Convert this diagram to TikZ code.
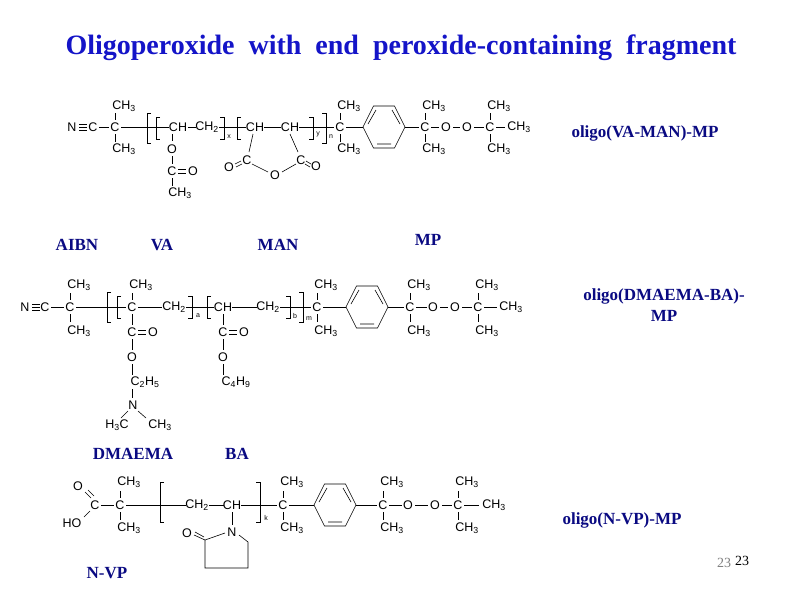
\documentclass[tikz,border=0pt]{standalone}
\usepackage{fontspec}
\setmainfont{Liberation Serif}
\newfontfamily\chem{Liberation Sans}
\definecolor{ttl}{RGB}{20,20,200}
\definecolor{lab}{RGB}{10,10,130}
\newcommand{\A}[3]{\node[atm] at (#1,#2) {#3};}
\newcommand{\Me}{CH\textsubscript{3}}
\newcommand{\Br}[4]{\draw[bond] (#1+4,#2)--(#1,#2)--(#1,#3)--(#1+4,#3);}
\newcommand{\Kt}[4]{\draw[bond] (#1-4,#2)--(#1,#2)--(#1,#3)--(#1-4,#3);}
\newcommand{\Ring}[2]{\draw[bond] (#1-21,#2)--(#1-10.5,#2-21)--(#1+10.5,#2-21)--(#1+21,#2)--(#1+10.5,#2+21)--(#1-10.5,#2+21)--cycle;
 \draw[bond] (#1-16,#2-3)--(#1-8,#2-17) (#1+8,#2-17)--(#1+16,#2-3) (#1-7,#2+17)--(#1+7,#2+17);}
\begin{document}
\begin{tikzpicture}[x=1pt,y=-1pt,
 atm/.style={inner sep=0pt,font=\chem\fontsize{12.5}{12.5}\selectfont},
 bond/.style={line width=0.6pt},
 lbl/.style={text=lab,font=\bfseries\fontsize{17}{17}\selectfont,inner sep=0pt}]
\useasboundingbox[fill=white] (0,0) rectangle (800,600);
\node[text=ttl,font=\bfseries\fontsize{28}{28}\selectfont] at (401,48) {Oligoperoxide\ \ with\ \ end\ \ peroxide-containing\ \ fragment};
% ---------- structure 1
\A{72}{127}{N}\draw[bond] (79,124)--(87,124) (79,127)--(87,127) (79,130)--(87,130);
\A{93}{127}{C}\draw[bond](99,127)--(109,127);
\A{115}{127}{C}\draw[bond](115,113)--(115,120)(115,134)--(115,142);
\A{124}{106}{\Me}\A{124}{149}{\Me}
\draw[bond](121,127)--(169,127);\Br{147}{113}{143}{}\Br{156}{117}{139}{}
\A{178}{127}{CH}\draw[bond](188,127)--(196,127);
\A{207}{127}{CH\textsubscript{2}}\Kt{224}{117}{139}{}\A{229}{137}{\scriptsize x}\Br{237}{117}{139}{}
\draw[bond](219,127)--(246,127);
\A{255}{127}{CH}\draw[bond](264,127)--(281,127);
\A{290}{127}{CH}\draw[bond](299,127)--(334,127);
\Kt{313}{117}{139}{}\A{318}{134}{\scriptsize y}\Kt{326}{113}{143}{}\A{331}{137}{\scriptsize n}
\A{340}{127}{C}\draw[bond](340,113)--(340,120)(340,134)--(340,142);
\A{349}{106}{\Me}\A{349}{149}{\Me}
\draw[bond](346,127)--(363,127);\Ring{384}{127}
\draw[bond](405,127)--(419,127);
\A{425}{127}{C}\draw[bond](425,113)--(425,120)(425,134)--(425,142);
\A{434}{106}{\Me}\A{434}{149}{\Me}
\draw[bond](431,127)--(439,127);\A{446}{127}{O}\draw[bond](453,127)--(460,127);
\A{467}{127}{O}\draw[bond](474,127)--(484,127);
\A{490}{127}{C}\draw[bond](490,113)--(490,120)(490,134)--(490,142);
\A{499}{106}{\Me}\A{499}{149}{\Me}\draw[bond](496,127)--(505,127);\A{519}{127}{\Me}
% VA
\draw[bond](172,134)--(172,141);\A{172}{149}{O}\draw[bond](172,156)--(172,164);
\A{172}{171}{C}\draw[bond](178,169)--(186,169)(178,173)--(186,173);\A{193}{171}{O}
\draw[bond](172,178)--(172,186);\A{180}{193}{\Me}
% MAN
\draw[bond](253,134)--(249,152);\A{247}{160}{C}
\draw[bond](241,161)--(235,164)(242,164)--(236,167);\A{229}{167}{O}
\draw[bond](252,164)--(268,172);\A{275}{175}{O}\draw[bond](282,172)--(296,164);
\draw[bond](290,134)--(298,152);\A{301}{160}{C}
\draw[bond](306,161)--(311,164)(305,164)--(310,167);\A{316}{166}{O}
% ---------- structure 2
\A{25}{307}{N}\draw[bond](32,304)--(40,304)(32,307)--(40,307)(32,310)--(40,310);
\A{45}{307}{C}\draw[bond](51,307)--(64,307);
\A{70}{307}{C}\draw[bond](70,293)--(70,300)(70,314)--(70,322);
\A{79}{285}{\Me}\A{79}{331}{\Me}
\draw[bond](76,307)--(126,307);\Br{107}{292}{322}{}\Br{117}{296}{318}{}
\A{132}{307}{C}\draw[bond](132,293)--(132,300);\A{141}{285}{\Me}
\draw[bond](138,307)--(162,307);\A{174}{307}{CH\textsubscript{2}}
\Kt{192}{296}{318}{}\A{198}{316}{\scriptsize a}\Br{207}{296}{318}{}
\draw[bond](186,307)--(214,307);\A{223}{307}{CH}\draw[bond](232,307)--(257,307);
\A{268}{307}{CH\textsubscript{2}}\draw[bond](280,307)--(311,307);
\Kt{290}{296}{318}{}\A{295}{316}{\scriptsize b}\Kt{303}{292}{322}{}\A{309}{319}{\scriptsize m}
\A{317}{307}{C}\draw[bond](317,293)--(317,300)(317,314)--(317,322);
\A{326}{285}{\Me}\A{326}{331}{\Me}
\draw[bond](323,307)--(346,307);\Ring{367}{307}\draw[bond](388,307)--(404,307);
\A{410}{307}{C}\draw[bond](410,293)--(410,300)(410,314)--(410,322);
\A{419}{285}{\Me}\A{419}{331}{\Me}
\draw[bond](416,307)--(427,307);\A{433}{307}{O}\draw[bond](440,307)--(448,307);
\A{455}{307}{O}\draw[bond](462,307)--(472,307);
\A{478}{307}{C}\draw[bond](478,293)--(478,300)(478,314)--(478,322);
\A{487}{285}{\Me}\A{487}{331}{\Me}\draw[bond](484,307)--(497,307);\A{511}{307}{\Me}
% DMAEMA
\draw[bond](132,314)--(132,325);\A{132}{332}{C}\draw[bond](138,330)--(146,330)(138,334)--(146,334);\A{153}{332}{O}
\draw[bond](132,339)--(132,350);\A{132}{357}{O}\draw[bond](132,364)--(132,375);
\A{145}{382}{C\textsubscript{2}H\textsubscript{5}}\draw[bond](132,389)--(132,398);
\A{133}{405}{N}\draw[bond](128,411)--(121,418)(138,411)--(146,418);
\A{117}{425}{H\textsubscript{3}C}\A{160}{425}{\Me}
% BA
\draw[bond](223,314)--(223,325);\A{223}{332}{C}\draw[bond](229,330)--(237,330)(229,334)--(237,334);\A{244}{332}{O}
\draw[bond](223,339)--(223,350);\A{223}{357}{O}\draw[bond](223,364)--(223,375);
\A{236}{382}{C\textsubscript{4}H\textsubscript{9}}
% ---------- structure 3
\A{78}{486}{O}\draw[bond](91,498)--(85,492)(94,496)--(88,490);
\A{95}{505}{C}\draw[bond](90,511)--(84,517);\A{72}{523}{HO}
\draw[bond](101,505)--(114,505);
\A{120}{505}{C}\draw[bond](120,491)--(120,498)(120,512)--(120,520);
\A{129}{482}{\Me}\A{129}{528}{\Me}
\draw[bond](126,505)--(186,505);\Br{160}{482}{522}{}
\A{197}{505}{CH\textsubscript{2}}\draw[bond](209,505)--(224,505);
\A{232}{505}{CH}\draw[bond](241,505)--(277,505);\Kt{260}{482}{522}{}\A{266}{518}{\scriptsize k}
\A{283}{505}{C}\draw[bond](283,491)--(283,498)(283,512)--(283,520);
\A{292}{482}{\Me}\A{292}{528}{\Me}
\draw[bond](289,505)--(314,505);\Ring{335}{505}\draw[bond](356,505)--(377,505);
\A{383}{505}{C}\draw[bond](383,491)--(383,498)(383,512)--(383,520);
\A{392}{482}{\Me}\A{392}{528}{\Me}
\draw[bond](389,505)--(402,505);\A{408}{505}{O}\draw[bond](415,505)--(428,505);
\A{435}{505}{O}\draw[bond](442,505)--(452,505);
\A{458}{505}{C}\draw[bond](458,491)--(458,498)(458,512)--(458,520);
\A{467}{482}{\Me}\A{467}{528}{\Me}\draw[bond](464,505)--(479,505);\A{494}{505}{\Me}
\draw[bond](232,512)--(232,525);\A{232}{532}{N}
\draw[bond](239,535)--(248,542)--(248,568)--(205,568)--(205,540)--(225,533);
\draw[bond](205,540)--(194,535)(204,537)--(195,532);\A{187}{533}{O}
% ---------- labels
\node[lbl] at (77,245){AIBN};\node[lbl] at (162,245){VA};\node[lbl] at (278,245){MAN};
\node[lbl] at (428,240){MP};\node[lbl] at (645,133){oligo(VA-MAN)-MP};
\node[lbl] at (664,296){oligo(DMAEMA-BA)-};\node[lbl] at (664,316){MP};
\node[lbl] at (133,454){DMAEMA};\node[lbl] at (237,454){BA};
\node[lbl] at (107,573){N-VP};\node[lbl] at (622,520){oligo(N-VP)-MP};
\node[font=\fontsize{14}{14}\selectfont,text=gray,inner sep=0pt] at (724,563){23};
\node[font=\fontsize{14}{14}\selectfont,inner sep=0pt] at (742,561){23};
\end{tikzpicture}
\end{document}
